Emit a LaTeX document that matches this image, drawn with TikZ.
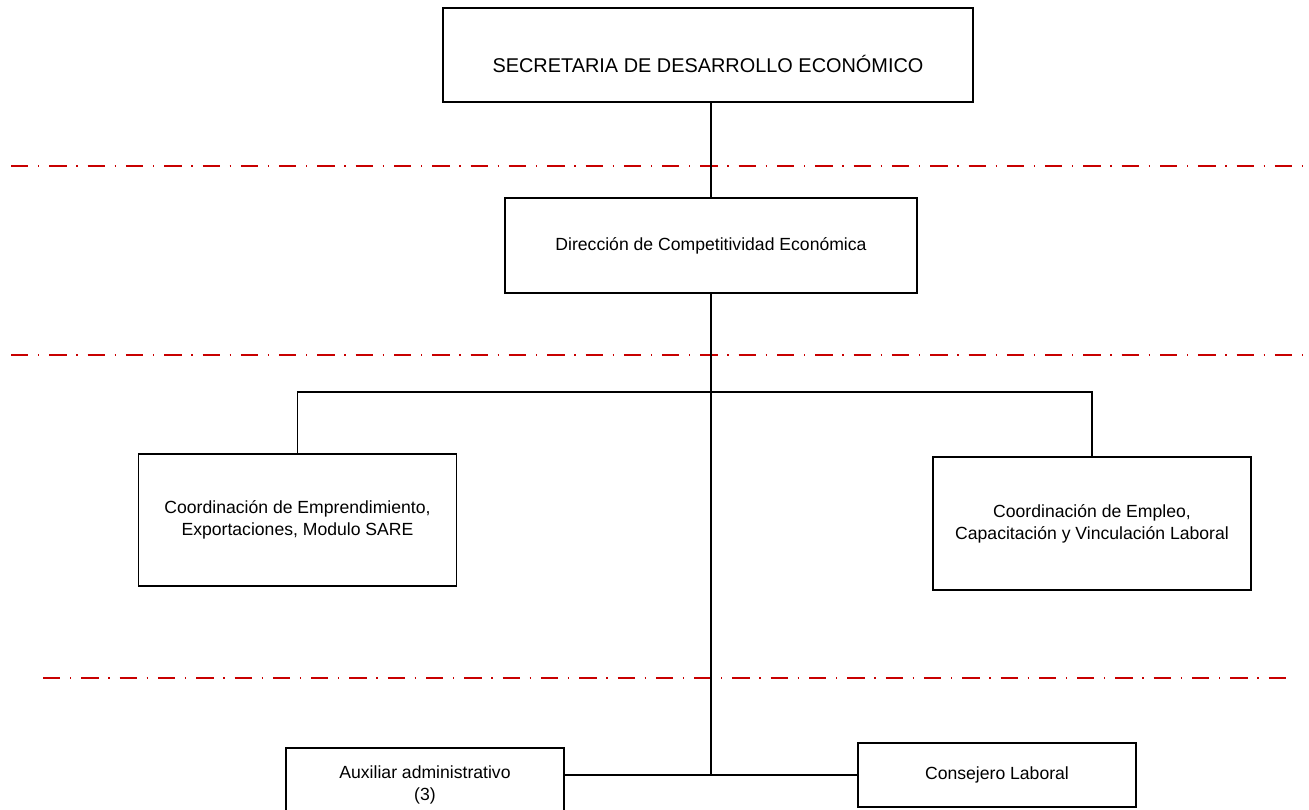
\documentclass[tikz,border=0pt]{standalone}
\usepackage{fontspec}
\setmainfont{Liberation Sans}
\definecolor{cutred}{RGB}{200,0,0}
\begin{document}
\begin{tikzpicture}[x=1pt,y=-1pt,
  orgbox/.style={draw=black, line width=1.3pt, fill=white, inner sep=0pt,
    align=center, font=\fontsize{17.6}{22}\selectfont},
  link/.style={draw=black, line width=1.3pt},
  levelcut/.style={draw=cutred, line width=2pt,
    dash pattern=on 17.3pt off 9.7pt on 1.3pt off 10pt}]
\useasboundingbox (0,0) rectangle (1309,810);

% level separators
\coordinate (cutAL) at (11,166);   \coordinate (cutAR) at (1306,166);
\coordinate (cutBL) at (11,355);   \coordinate (cutBR) at (1306,355);
\coordinate (cutCL) at (43,678);   \coordinate (cutCR) at (1286,678);
\draw[levelcut] (cutAL) -- (cutAR);
\draw[levelcut] (cutBL) -- (cutBR);
\draw[levelcut] (cutCL) -- (cutCR);

% boxes
\node[orgbox, minimum width=530pt, minimum height=94pt,
  label={[name=secT, font=\fontsize{19.9}{24}\selectfont, yshift=-8.5pt]center:SECRETARIA DE DESARROLLO ECONÓMICO}]
  (sec) at (708,55) {};
\node[orgbox, minimum width=412pt, minimum height=95pt] (dir) at (711,245.5)
  {Dirección de Competitividad Económica};
\node[orgbox, minimum width=318pt, minimum height=132pt] (empL) at (297.5,520)
  {Coordinación de Emprendimiento,\\Exportaciones, Modulo SARE};
\node[orgbox, minimum width=318pt, minimum height=133pt] (empR) at (1092,523.5)
  {Coordinación de Empleo,\\Capacitación y Vinculación Laboral};
\node[orgbox, minimum width=278pt, minimum height=74pt] (aux) at (425,785)
  {Auxiliar administrativo\\(3)};
\node[orgbox, minimum width=278pt, minimum height=64pt] (cons) at (997,775)
  {Consejero Laboral};

% connectors
\coordinate (hub) at (711,392);
\coordinate (bar) at (711,775);
\draw[link] (dir.north) -- (dir.north |- sec.south);
\draw[link] (dir.south) -- (bar);
\draw[link] (empL.north) -- (empL.north |- hub) -- (empR.north |- hub) -- (empR.north);
\draw[link] (aux.east |- bar) -- (cons.west |- bar);
\end{tikzpicture}
\end{document}
